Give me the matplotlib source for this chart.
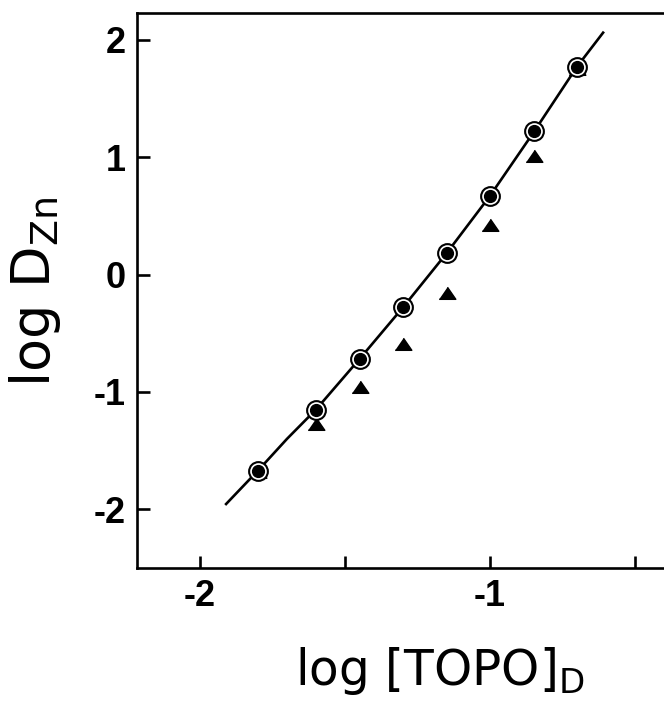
import matplotlib
matplotlib.use('Agg')
import matplotlib.pyplot as plt

# log [TOPO]_D values (same x for both series)
log_topo = [-1.8, -1.6, -1.45, -1.3, -1.15, -1.0, -0.85, -0.7]
# circles (on the curve)
log_d_circle = [-1.67, -1.15, -0.72, -0.28, 0.18, 0.67, 1.22, 1.77]
# triangles
log_d_tri = [-1.68, -1.27, -0.96, -0.59, -0.155, 0.42, 1.01, 1.75]

# the drawn curve
curve_x = [-1.91, -1.8, -1.7, -1.6, -1.45, -1.3, -1.15, -1.0, -0.85, -0.7, -0.61]
curve_y = [-1.955, -1.67, -1.40, -1.15, -0.72, -0.28, 0.18, 0.67, 1.21, 1.77, 2.06]

xticks = [-2, -1.5, -1, -0.5]
xticklabels = ['-2', '', '-1', '']
yticks = [-2, -1, 0, 1, 2]
yticklabels = ['-2', '-1', '0', '1', '2']

fig = plt.figure(figsize=(6.64, 7.03), dpi=100)
ax = fig.add_axes([137/664, (703-568)/703, 1 - 137/664, (568-12.7)/703])

ax.plot(curve_x, curve_y, color='black', lw=1.9, zorder=2)
tri = [(-1, -0.7), (1, -0.7), (0, 0.75)]
ax.plot(log_topo, log_d_tri, ls='none', marker=tri, ms=12, color='black', zorder=3)
ax.plot(log_topo, log_d_circle, ls='none', marker='o', ms=13.5, mfc='white',
        mec='black', mew=1.5, zorder=4)
ax.plot(log_topo, log_d_circle, ls='none', marker='o', ms=8.5, color='black', zorder=5)

ax.set_xlim(-2 - 63/290, -2 + (664 - 200) / 290)
ax.set_ylim(-2.5, 2.23)
ax.set_xticks(xticks)
ax.set_xticklabels(xticklabels)
ax.set_yticks(yticks)
ax.set_yticklabels(yticklabels)
ax.tick_params(direction='in', length=9, width=1.9, labelsize=26, pad=8)
for lab in ax.get_xticklabels() + ax.get_yticklabels():
    lab.set_fontfamily('Liberation Sans')
    lab.set_fontweight('bold')
for s in ['left', 'bottom', 'top']:
    ax.spines[s].set_linewidth(1.9)
ax.spines['right'].set_visible(False)

fig.text(440/664, (703-685)/703, r'log [TOPO]$_{\mathregular{D}}$', ha='center',
         va='baseline', fontsize=35, family='DejaVu Sans')
fig.text(50/664, (703-292)/703, r'log D$_{\mathregular{Zn}}$', rotation=90,
         ha='center', va='baseline', fontsize=39, family='DejaVu Sans',
         rotation_mode='anchor')

fig.savefig('out.png', dpi=100)
